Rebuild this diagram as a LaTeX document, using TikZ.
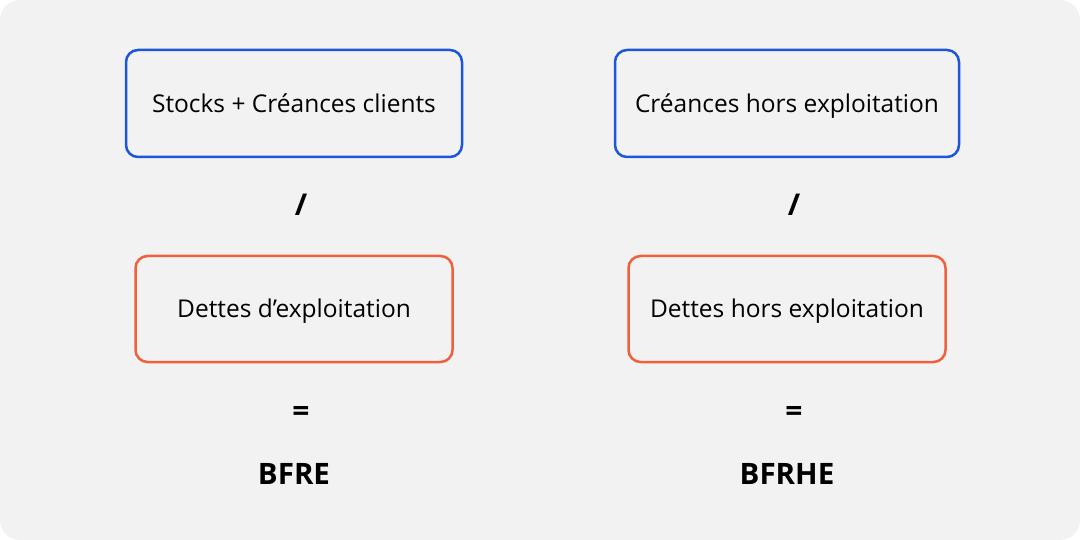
\documentclass[tikz,border=0pt]{standalone}
\usepackage{fontspec}
\setmainfont{Open Sans}
\usepackage{xcolor}
\usetikzlibrary{positioning, calc}

\definecolor{bgcol}{HTML}{F2F2F2}
\definecolor{numblue}{HTML}{1D56D8}
\definecolor{denorange}{HTML}{F1603C}

\begin{document}
\begin{tikzpicture}[
    x=1pt, y=-1pt,
    numer/.style={draw=numblue, line width=2.5pt, rounded corners=12pt,
                  minimum width=336pt, minimum height=107pt,
                  text height=17.5pt, text depth=0pt,
                  font=\fontsize{24.5}{28}\selectfont},
    denom/.style={draw=denorange, line width=2.5pt, rounded corners=12pt,
                  minimum width=317pt, minimum height=106pt,
                  text height=17.5pt, text depth=0pt,
                  font=\fontsize{24.5}{28}\selectfont},
    op/.style={font=\fontsize{30}{34}\selectfont\bfseries, inner sep=0pt, xshift=7pt},
    result/.style={font=\fontsize{29.5}{34}\selectfont\bfseries, inner sep=0pt},
    node distance=96.5pt
]
% background card
\fill[white] (0,0) rectangle (1080,540);
\fill[bgcol, rounded corners=20pt] (0,0) rectangle (1080,540);

% BFR d'exploitation
\node[numer] (stocks) at (294,103.5) {Stocks + Créances clients};
\node[denom, below=of stocks] (dexpl) {Dettes d’exploitation};
\node[op, yshift=2pt] (div1) at ($(stocks.south)!0.5!(dexpl.north)$) {/};
\node[op, below=51pt of dexpl.south, anchor=center] (eq1) {=};
\node[result, below=60pt of eq1.center, anchor=center, xshift=-7pt] (bfre) {BFRE};

% BFR hors exploitation
\node[numer, minimum width=344pt] (creances) at (787,103.5) {Créances hors exploitation};
\node[denom, below=of creances] (dhors) {Dettes hors exploitation};
\node[op, yshift=2pt] (div2) at ($(creances.south)!0.5!(dhors.north)$) {/};
\node[op, below=51pt of dhors.south, anchor=center] (eq2) {=};
\node[result, below=60pt of eq2.center, anchor=center, xshift=-7pt] (bfrhe) {BFRHE};
\end{tikzpicture}
\end{document}
